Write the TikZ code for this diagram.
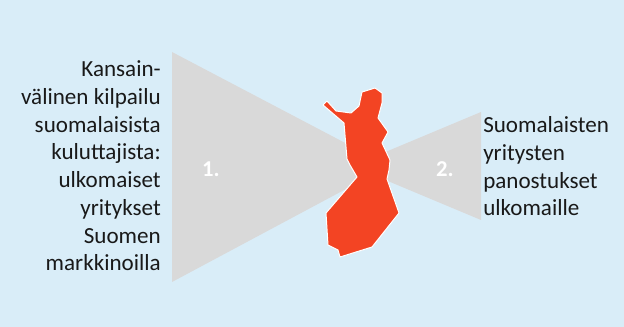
\documentclass[tikz,border=0pt]{standalone}
\usepackage{fontspec}
\setmainfont{Carlito}
\definecolor{bgblue}{HTML}{D9EDF8}
\definecolor{funnel}{HTML}{D9D9D9}
\definecolor{finland}{HTML}{F34423}
\tikzset{
  wedge/.style={fill=funnel,draw=none},
  map/.style={fill=finland,draw=white,line width=0.75pt,line join=round},
  body/.style={font=\fontsize{17.3pt}{20.8pt}\selectfont,text=black!90,inner sep=0pt,align=#1},
  num/.style={font=\fontsize{17pt}{20pt}\selectfont\bfseries,text=white,inner sep=0pt}
}
\begin{document}
\begin{tikzpicture}[x=0.75pt,y=-0.75pt]
\useasboundingbox (0,0) rectangle (624,327);
\fill[bgblue] (0,0) rectangle (624,327);
\fill[wedge] (172,52) -- (389,166) -- (172,282) -- cycle;
\fill[wedge] (481,112) -- (352,166) -- (481,220) -- cycle;
\draw[map] (323,105) -- (327,101) -- (336,111) -- (351,113) -- (359,106) -- (362,92) -- (375,88) -- (382,93) -- (382,103) -- (378,118) -- (388,132) -- (382,143) -- (390,160) -- (389,170) -- (387,179) -- (399,213) -- (372,247) -- (340,257) -- (338,250) -- (328,245) -- (326,213) -- (357,177) -- (350,165) -- (347,159) -- (344,123) -- cycle;
\node[body=right,anchor=north east] (left) at (161,60.5) {Kansain-\\välinen kilpailu\\suomalaisista\\kuluttajista:\\ulkomaiset\\yritykset\\Suomen\\markkinoilla};
\node[body=left,anchor=north west] (right) at (483,116.5) {Suomalaisten\\yritysten\\panostukset\\ulkomaille};
\node[num] (n1) at (211,169) {1.};
\node[num] (n2) at (445,169) {2.};
\end{tikzpicture}
\end{document}
